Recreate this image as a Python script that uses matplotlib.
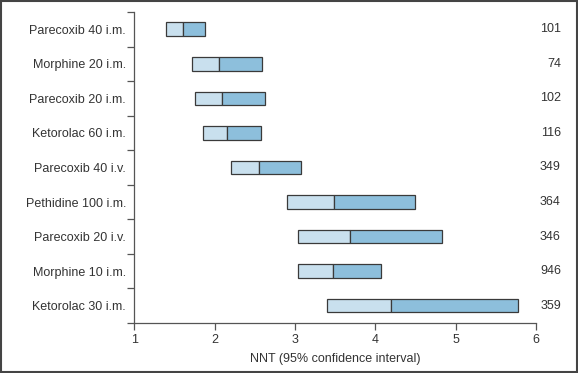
import matplotlib.pyplot as plt
from matplotlib.patches import Rectangle
from matplotlib.transforms import blended_transform_factory
import numpy as np

plt.rcParams["font.family"] = ["Liberation Sans", "DejaVu Sans"]

treatments = ["Parecoxib 40 i.m.", "Morphine 20 i.m.", "Parecoxib 20 i.m.",
              "Ketorolac 60 i.m.", "Parecoxib 40 i.v.", "Pethidine 100 i.m.",
              "Parecoxib 20 i.v.", "Morphine 10 i.m.", "Ketorolac 30 i.m."]
nnt_low = [1.40, 1.72, 1.75, 1.85, 2.20, 2.90, 3.04, 3.04, 3.40]
nnt = [1.60, 2.05, 2.09, 2.15, 2.55, 3.49, 3.68, 3.47, 4.20]
nnt_high = [1.875, 2.59, 2.63, 2.58, 3.07, 4.50, 4.83, 4.07, 5.78]
patients = [101, 74, 102, 116, 349, 364, 346, 946, 359]

LIGHT = "#c9e0ee"
DARK = "#8dbfdc"
EDGE = "#3a3a3a"
GREY = "#555555"

fig = plt.figure(figsize=(5.78, 3.73), dpi=100)
ax = fig.add_axes([0.2324, 0.134, 0.6949, 0.834])

y = np.arange(len(treatments))
lo = np.array(nnt_low)
mid = np.array(nnt)
hi = np.array(nnt_high)
ax.barh(y, mid - lo, left=lo, height=0.39, color=LIGHT, edgecolor=EDGE, linewidth=0.9)
ax.barh(y, hi - mid, left=mid, height=0.39, color=DARK, edgecolor=EDGE, linewidth=0.9)

ax.set_xlim(1, 6)
ax.set_ylim(len(treatments) - 0.5, -0.5)
ax.set_xticks([1, 2, 3, 4, 5, 6])
ax.set_yticks(y)
ax.set_yticklabels(treatments)
ax.set_yticks(np.arange(len(treatments) + 1) - 0.5, minor=True)
ax.tick_params(axis="y", which="major", length=0, pad=6, labelsize=9, colors="#333333")
ax.tick_params(axis="y", which="minor", length=5, width=0.9, color=GREY, direction="out")
ax.tick_params(axis="x", length=5, width=0.9, color=GREY, labelsize=9,
               labelcolor="#333333", pad=3)
for s in ["top", "right"]:
    ax.spines[s].set_visible(False)
for s in ["left", "bottom"]:
    ax.spines[s].set_color(GREY)
    ax.spines[s].set_linewidth(0.9)

ax.set_xlabel("NNT (95% confidence interval)", fontsize=9, color="#333333", labelpad=5)

trans = blended_transform_factory(ax.transAxes, ax.transData)
for yi, n in zip(y, patients):
    ax.text(1.062, yi, str(n), transform=trans, ha="right", va="center",
            fontsize=9, color="#333333")

fig.patches.append(Rectangle((0.001, 0.002), 0.997, 0.995, transform=fig.transFigure,
                             fill=False, edgecolor="#444444", linewidth=1.5))

fig.savefig("out.png", dpi=100)
